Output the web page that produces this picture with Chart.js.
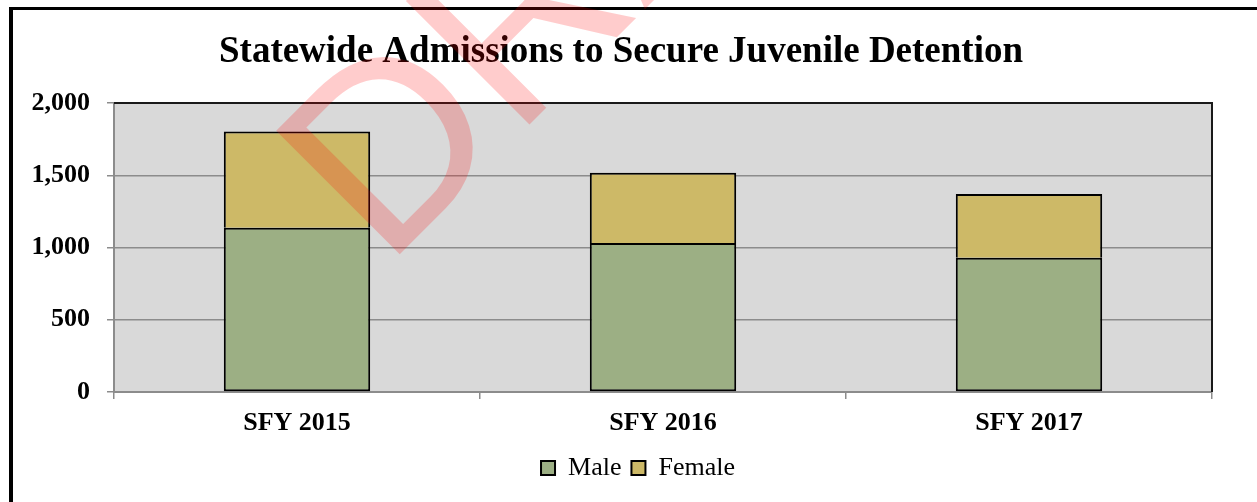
<!DOCTYPE html>
<html>
<head>
<meta charset="utf-8">
<script src="https://cdn.jsdelivr.net/npm/chart.js@4/dist/chart.umd.min.js"></script>
<style>
html,body{margin:0;padding:0;background:#fff;}
canvas{display:block;}
</style>
</head>
<body>
<canvas id="c" width="1257" height="502"></canvas>
<script>
const categories = ['SFY 2015', 'SFY 2016', 'SFY 2017'];
const maleValues = [1137, 1031, 929];
const femaleValues = [666, 487, 442];
const seriesNames = ['Male', 'Female'];
const yTicks = [0, 500, 1000, 1500, 2000];
const chartTitle = 'Statewide Admissions to Secure Juvenile Detention';
const watermark = 'DRAFT';

const SERIF = '"Liberation Serif", "Times New Roman", serif';

const decor = {
  id: 'decor',
  beforeDraw(chart) {
    const ctx = chart.ctx, a = chart.chartArea;
    ctx.save();
    ctx.fillStyle = '#ffffff';
    ctx.fillRect(0, 0, chart.width, chart.height);
    ctx.fillStyle = '#000000';
    ctx.fillRect(9, 7, 4, chart.height - 7);
    ctx.fillRect(9, 7, chart.width - 9, 3);
    ctx.fillStyle = '#d9d9d9';
    ctx.fillRect(a.left, a.top, a.right - a.left, a.bottom - a.top);
    ctx.restore();
  },
  beforeDatasetsDraw(chart) {
    const ctx = chart.ctx, a = chart.chartArea;
    ctx.save();
    ctx.strokeStyle = '#1a1a1a';
    ctx.lineWidth = 2;
    ctx.beginPath();
    ctx.moveTo(a.left, a.top);
    ctx.lineTo(a.right, a.top);
    ctx.lineTo(a.right, a.bottom);
    ctx.stroke();
    ctx.restore();
  },
  afterDraw(chart) {
    const ctx = chart.ctx;
    ctx.save();
    ctx.fillStyle = '#000000';
    ctx.font = 'bold 37px ' + SERIF;
    ctx.textAlign = 'center';
    ctx.textBaseline = 'alphabetic';
    ctx.fillText(chartTitle, 621, 62);
    ctx.restore();
    ctx.save();
    ctx.translate(385, 269);
    ctx.rotate(-Math.PI / 4);
    ctx.font = '254px "Liberation Sans", Arial, sans-serif';
    ctx.fillStyle = 'rgba(255,0,0,0.2)';
    ctx.textAlign = 'left';
    ctx.textBaseline = 'alphabetic';
    ctx.fillText(watermark, 0, 0);
    ctx.restore();
  }
};

new Chart(document.getElementById('c'), {
  type: 'bar',
  data: {
    labels: categories,
    datasets: [
      { label: seriesNames[0], data: maleValues, backgroundColor: '#9caf84', borderColor: '#000000', borderWidth: 2, borderSkipped: false, barPercentage: 0.4, categoryPercentage: 1.0 },
      { label: seriesNames[1], data: femaleValues, backgroundColor: '#cdb967', borderColor: '#000000', borderWidth: 2, borderSkipped: 'bottom', barPercentage: 0.4, categoryPercentage: 1.0 }
    ]
  },
  options: {
    responsive: false,
    animation: false,
    layout: { padding: { left: 19, right: 0, top: 103, bottom: 11 } },
    plugins: {
      title: { display: false },
      tooltip: { enabled: false },
      legend: {
        display: true,
        position: 'bottom',
        labels: {
          boxWidth: 14,
          boxHeight: 14,
          padding: 10,
          color: '#000000',
          font: { family: SERIF, size: 26 },
          generateLabels(chart) {
            return chart.data.datasets.map((ds, i) => ({
              text: ds.label,
              fillStyle: ds.backgroundColor,
              strokeStyle: '#000000',
              lineWidth: 2,
              hidden: false,
              datasetIndex: i,
              fontColor: '#000000'
            }));
          }
        }
      }
    },
    scales: {
      x: {
        stacked: true,
        afterFit(s) { s.height = 53; },
        grid: { display: true, drawOnChartArea: false, drawTicks: true, tickLength: 7, color: '#8c8c8c', lineWidth: 1.5, offset: true },
        border: { display: true, color: '#8c8c8c', width: 2 },
        ticks: { color: '#000000', font: { family: SERIF, size: 26, weight: 'bold' }, padding: 9 }
      },
      y: {
        stacked: true,
        min: 0,
        max: 2000,
        afterFit(s) { s.width = 95; },
        afterBuildTicks(s) { s.ticks = yTicks.map(v => ({ value: v })); },
        grid: { display: true, drawOnChartArea: true, drawTicks: true, tickLength: 7, color: '#8c8c8c', lineWidth: 1.5 },
        border: { display: true, color: '#8c8c8c', width: 2 },
        ticks: {
          color: '#000000',
          font: { family: SERIF, size: 26, weight: 'bold' },
          padding: 17,
          callback: v => Number(v).toLocaleString('en-US')
        }
      },
      yRight: {
        position: 'right',
        display: true,
        min: 0,
        max: 1,
        afterFit(s) { s.width = 45; },
        grid: { display: false },
        border: { display: false },
        ticks: { display: false }
      }
    }
  },
  plugins: [decor]
});
</script>
</body>
</html>
